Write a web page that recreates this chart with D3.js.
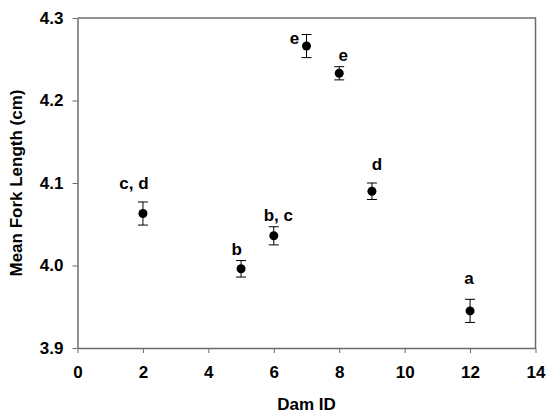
<!DOCTYPE html>
<html>
<head>
<meta charset="utf-8">
<script src="https://cdn.jsdelivr.net/npm/d3@7"></script>
<style>
  body { margin: 0; background: #fff; }
  svg { display: block; font-family: "Liberation Sans", Arial, sans-serif; }
</style>
</head>
<body>
<div id="chart"></div>
<script>
// Dam IDs, mean fork length (cm), standard error, significance letters
const damIds = [2, 5, 6, 7, 8, 9, 12];
const meanLength = [4.063, 3.996, 4.036, 4.266, 4.233, 4.090, 3.945];
const stdErr = [0.014, 0.010, 0.011, 0.014, 0.008, 0.010, 0.014];
const groups = ["c, d", "b", "b, c", "e", "e", "d", "a"];

const xTicks = [0, 2, 4, 6, 8, 10, 12, 14];
const yTicks = [3.9, 4.0, 4.1, 4.2, 4.3];

// label placement (px, relative to the point)
const labelDx = [-9, -4.5, 4.5, -12, 4, 5, -1];
const labelDy = [-25, -14, -15, -2, -12, -21, -27];

const width = 549, height = 415;
const margin = { top: 18, right: 13.5, bottom: 67, left: 77.5 };
const fontSize = "17px";

const svg = d3.select("#chart").append("svg")
  .attr("width", width)
  .attr("height", height);

const x = d3.scaleLinear().domain([0, 14]).range([margin.left, width - margin.right]);
const y = d3.scaleLinear().domain([3.9, 4.3]).range([height - margin.bottom, margin.top]);

const axisColor = "#6b6b6b";

// frame (top and right)
svg.append("path")
  .attr("d", `M${x(0)},${y(4.3)}H${x(14)}V${y(3.9)}`)
  .attr("fill", "none")
  .attr("stroke", axisColor)
  .attr("stroke-width", 1.5);

// x axis
svg.append("g")
  .attr("transform", `translate(0,${y(3.9)})`)
  .call(d3.axisBottom(x).tickValues(xTicks).tickFormat(d3.format("d")).tickSizeInner(5).tickSizeOuter(0).tickPadding(13))
  .call(g => g.select(".domain").attr("stroke", axisColor).attr("stroke-width", 1.5))
  .call(g => g.selectAll(".tick line").attr("stroke", axisColor))
  .call(g => g.selectAll("text").attr("font-size", fontSize).attr("font-weight", "bold").attr("fill", "#000"));

// y axis
svg.append("g")
  .attr("transform", `translate(${x(0)},0)`)
  .call(d3.axisLeft(y).tickValues(yTicks).tickFormat(d3.format(".1f")).tickSizeInner(5).tickSizeOuter(0).tickPadding(9))
  .call(g => g.select(".domain").attr("stroke", axisColor).attr("stroke-width", 1.5))
  .call(g => g.selectAll(".tick line").attr("stroke", axisColor))
  .call(g => g.selectAll("text").attr("font-size", fontSize).attr("font-weight", "bold").attr("fill", "#000"));

// axis titles
svg.append("text")
  .attr("x", (x(0) + x(14)) / 2)
  .attr("y", 410)
  .attr("text-anchor", "middle")
  .attr("font-size", fontSize)
  .attr("font-weight", "bold")
  .text("Dam ID");

svg.append("text")
  .attr("transform", `translate(22,${(y(3.9) + y(4.3)) / 2}) rotate(-90)`)
  .attr("text-anchor", "middle")
  .attr("font-size", fontSize)
  .attr("font-weight", "bold")
  .text("Mean Fork Length (cm)");

const data = damIds.map((d, i) => ({
  id: d, mean: meanLength[i], se: stdErr[i], group: groups[i], dx: labelDx[i], dy: labelDy[i]
}));

// error bars
const eb = svg.append("g").attr("stroke", "#000").attr("stroke-width", 1);
eb.selectAll("path")
  .data(data)
  .join("path")
    .attr("fill", "none")
    .attr("d", d => {
      const cx = x(d.id), t = y(d.mean + d.se), b = y(d.mean - d.se);
      return `M${cx - 5},${t}H${cx + 5}M${cx},${t}V${b}M${cx - 5},${b}H${cx + 5}`;
    });

// points
svg.append("g")
  .selectAll("circle")
  .data(data)
  .join("circle")
    .attr("cx", d => x(d.id))
    .attr("cy", d => y(d.mean))
    .attr("r", 4.5)
    .attr("fill", "#000");

// significance letters
svg.append("g")
  .selectAll("text")
  .data(data)
  .join("text")
    .attr("x", d => x(d.id) + d.dx)
    .attr("y", d => y(d.mean) + d.dy)
    .attr("text-anchor", "middle")
    .attr("font-size", fontSize)
    .attr("font-weight", "bold")
    .text(d => d.group);
</script>
</body>
</html>
